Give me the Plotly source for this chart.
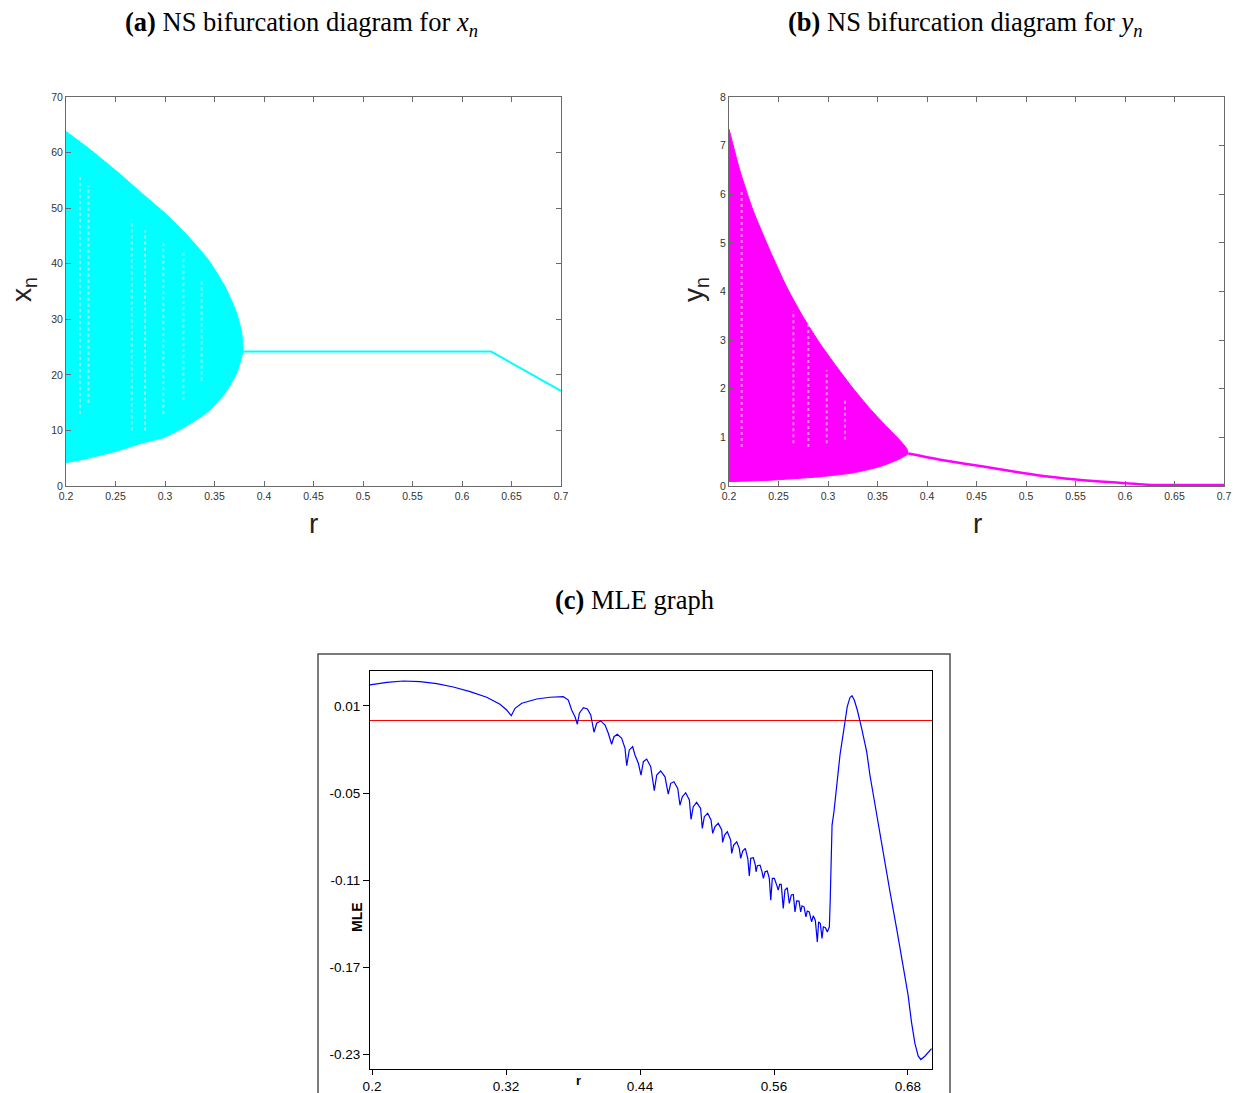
import plotly.graph_objects as go

# ---------------- Data ----------------
# Panel (a): NS bifurcation envelope for x_n
a_upper_r = [0.2, 0.2226, 0.2495, 0.2765, 0.3, 0.3235, 0.3437, 0.3606, 0.3724, 0.3775, 0.3791]
a_upper_x = [63.8, 60.8, 56.9, 52.7, 49.1, 44.9, 40.7, 35.9, 31.1, 27.5, 24.2]
a_lower_r = [0.2, 0.2226, 0.2495, 0.2765, 0.3, 0.3235, 0.3437, 0.3606, 0.3724, 0.3775, 0.3791]
a_lower_x = [4.2, 5.0, 6.2, 7.7, 8.8, 11.0, 13.4, 16.7, 20.3, 23.3, 24.2]
a_line_r = [0.3791, 0.6293, 0.7]
a_line_x = [24.2, 24.2, 17.1]
a_stripe_r = [0.2141, 0.2226, 0.2664, 0.2798, 0.2983, 0.3185, 0.3370]
a_stripe_lo = [13, 15, 10, 10, 13, 15.5, 19]
a_stripe_hi = [56, 54, 48, 46, 44, 42, 37]

# Panel (b): NS bifurcation envelope for y_n
b_upper_r = [0.2, 0.2111, 0.2245, 0.2414, 0.2583, 0.2751, 0.2919, 0.3088, 0.3256, 0.3424, 0.3593, 0.3727, 0.3795, 0.3811]
b_upper_y = [7.34, 6.48, 5.66, 4.84, 4.09, 3.47, 2.93, 2.45, 2.0, 1.59, 1.22, 0.94, 0.77, 0.67]
b_lower_r = [0.2, 0.2414, 0.2919, 0.3256, 0.3525, 0.3694, 0.3795, 0.3811]
b_lower_y = [0.09, 0.12, 0.19, 0.27, 0.40, 0.53, 0.64, 0.67]
b_line_r = [0.3811, 0.4165, 0.4569, 0.4906, 0.5242, 0.5579, 0.5916, 0.6286, 0.65, 0.7]
b_line_y = [0.67, 0.53, 0.40, 0.29, 0.19, 0.12, 0.07, 0.02, 0.02, 0.02]
b_stripe_r = [0.2128, 0.265, 0.2801, 0.2987, 0.3172]
b_stripe_lo = [0.8, 0.88, 0.8, 0.88, 0.95]
b_stripe_hi = [6.07, 3.6, 3.4, 2.38, 1.8]

# Panel (c): MLE graph
r_mle = [0.1982, 0.2132, 0.228, 0.243, 0.2579, 0.2728, 0.2878, 0.3027, 0.3146, 0.3206, 0.3247,
         0.3281, 0.3341, 0.3475, 0.3594, 0.3713, 0.3758, 0.3788, 0.3818, 0.3839,
         0.3857, 0.3893, 0.3929, 0.3959, 0.3988, 0.4012, 0.4048, 0.4087, 0.4116, 0.4146,
         0.4167, 0.4197, 0.4236, 0.4266, 0.4281, 0.4304, 0.4334, 0.4355, 0.4385, 0.4409,
         0.443, 0.446, 0.4496, 0.4528, 0.455, 0.4585, 0.4624, 0.4653, 0.4675, 0.4704,
         0.4738, 0.4758, 0.4779, 0.4809, 0.4842, 0.4857, 0.4877, 0.4907, 0.4943, 0.4958,
         0.4976, 0.5006, 0.5036, 0.5051, 0.5072, 0.5101, 0.5132, 0.514, 0.5158, 0.5182,
         0.5212, 0.5221, 0.5239, 0.5266, 0.5289, 0.5302, 0.532, 0.5343, 0.5365, 0.5379,
         0.5392, 0.5415, 0.5433, 0.5439, 0.5451, 0.5475, 0.5493, 0.5505, 0.552, 0.554,
         0.5558, 0.5571, 0.5585, 0.5603, 0.5624, 0.5638, 0.5651, 0.5665, 0.5683, 0.5698,
         0.5719, 0.5737, 0.5755, 0.5773, 0.5788, 0.5803, 0.5824, 0.5839, 0.5851, 0.5869,
         0.5886, 0.5898, 0.5916, 0.5937, 0.5952, 0.597, 0.5988, 0.6, 0.6015, 0.603,
         0.6042, 0.606, 0.6078, 0.6096, 0.6104, 0.6111, 0.612, 0.6137, 0.6161, 0.6191,
         0.6227, 0.6256, 0.628, 0.6298, 0.6319, 0.6346, 0.6385, 0.643, 0.6459, 0.6519,
         0.6579, 0.6639, 0.6698, 0.6758, 0.6801, 0.6831, 0.6862, 0.6891, 0.6915, 0.6951,
         0.699, 0.7011]
mle_vals = [0.0245, 0.0263, 0.0272, 0.0268, 0.0254, 0.0231, 0.0199, 0.016, 0.0112, 0.0072, 0.0033,
            0.0084, 0.0119, 0.0148, 0.016, 0.0164, 0.0141, 0.0072, 0.0026, -0.0026,
            0.005, 0.0088, 0.0079, 0.0038, -0.0081, -0.0019, -0.0003, -0.0031, -0.0088, -0.0164,
            -0.0112, -0.0095, -0.0123, -0.0192, -0.0312, -0.0203, -0.0181, -0.0238, -0.0295, -0.0376,
            -0.0284, -0.0266, -0.0319, -0.0484, -0.0376, -0.0348, -0.0388, -0.0507, -0.0433, -0.0422,
            -0.0468, -0.0583, -0.0526, -0.0498, -0.0548, -0.0681, -0.0594, -0.0564, -0.0606, -0.0744,
            -0.0663, -0.064, -0.0686, -0.0778, -0.0732, -0.0709, -0.0755, -0.084, -0.079, -0.0767,
            -0.0824, -0.0916, -0.0859, -0.0836, -0.0881, -0.095, -0.09, -0.0881, -0.095, -0.1072,
            -0.095, -0.0946, -0.0997, -0.1043, -0.1001, -0.0997, -0.1043, -0.1088, -0.1043, -0.1038,
            -0.1088, -0.1238, -0.1088, -0.1088, -0.1134, -0.1169, -0.113, -0.113, -0.1295, -0.1169,
            -0.1153, -0.1261, -0.1203, -0.1199, -0.1319, -0.1243, -0.1245, -0.1319, -0.1277, -0.1284,
            -0.1353, -0.1314, -0.1319, -0.1388, -0.1346, -0.1376, -0.1526, -0.1388, -0.1399, -0.1502,
            -0.1422, -0.1429, -0.1457, -0.1422, -0.1226, -0.0859, -0.0721, -0.0629, -0.0445, -0.0238,
            -0.0054, 0.0095, 0.0157, 0.0171, 0.0141, 0.0072, -0.0054, -0.0215, -0.0376, -0.0652,
            -0.0905, -0.1181, -0.1433, -0.1686, -0.1893, -0.2077, -0.2226, -0.2312, -0.2337, -0.2314,
            -0.2284, -0.2261]
mle_ref_level = 0.0

ab_xticks = [0.2, 0.25, 0.3, 0.35, 0.4, 0.45, 0.5, 0.55, 0.6, 0.65, 0.7]
ab_xticktext = ["0.2", "0.25", "0.3", "0.35", "0.4", "0.45", "0.5", "0.55", "0.6", "0.65", "0.7"]
a_yticks = [0, 10, 20, 30, 40, 50, 60, 70]
b_yticks = [0, 1, 2, 3, 4, 5, 6, 7, 8]
c_xticks = [0.2, 0.32, 0.44, 0.56, 0.68]
c_xticktext = ["0.2", "0.32", "0.44", "0.56", "0.68"]
c_yticks = [0.01, -0.05, -0.11, -0.17, -0.23]
c_yticktext = ["0.01", "-0.05", "-0.11", "-0.17", "-0.23"]

# ---------------- Figure ----------------
W, H = 1235, 1093


def px(xp):
    return xp / W


def py(yp):
    return 1 - yp / H


CYAN = "#00ffff"
MAGENTA = "#ff00ff"
SANS = "Liberation Sans, Arial, sans-serif"
SERIF = "Liberation Serif, Times New Roman, serif"

fig = go.Figure()


def stripes(rs, lo, hi):
    xs, ys = [], []
    for r, a, b in zip(rs, lo, hi):
        xs += [r, r, None]
        ys += [a, b, None]
    return xs, ys


STRIPE = dict(color="rgba(255,255,255,0.55)", width=2, dash="dot")

# Panel (a)
fig.add_trace(go.Scatter(x=a_upper_r + a_lower_r[::-1], y=a_upper_x + a_lower_x[::-1],
                         fill="toself", fillcolor=CYAN, mode="lines",
                         line=dict(color=CYAN, width=1, shape="spline", smoothing=0.6),
                         xaxis="x", yaxis="y", showlegend=False, hoverinfo="skip"))
sx, sy = stripes(a_stripe_r, a_stripe_lo, a_stripe_hi)
fig.add_trace(go.Scatter(x=sx, y=sy, mode="lines", line=STRIPE,
                         xaxis="x", yaxis="y", showlegend=False, hoverinfo="skip"))
fig.add_trace(go.Scatter(x=a_line_r, y=a_line_x, mode="lines",
                         line=dict(color=CYAN, width=2), xaxis="x", yaxis="y",
                         showlegend=False))

# Panel (b)
fig.add_trace(go.Scatter(x=b_upper_r + b_lower_r[::-1], y=b_upper_y + b_lower_y[::-1],
                         fill="toself", fillcolor=MAGENTA, mode="lines",
                         line=dict(color=MAGENTA, width=1, shape="spline", smoothing=0.6),
                         xaxis="x2", yaxis="y2", showlegend=False, hoverinfo="skip"))
sx, sy = stripes(b_stripe_r, b_stripe_lo, b_stripe_hi)
fig.add_trace(go.Scatter(x=sx, y=sy, mode="lines", line=STRIPE,
                         xaxis="x2", yaxis="y2", showlegend=False, hoverinfo="skip"))
fig.add_trace(go.Scatter(x=b_line_r, y=b_line_y, mode="lines",
                         line=dict(color=MAGENTA, width=2.5, shape="spline", smoothing=0.5),
                         xaxis="x2", yaxis="y2", showlegend=False))

# Panel (c)
fig.add_trace(go.Scatter(x=[0.1982, 0.7015], y=[mle_ref_level, mle_ref_level], mode="lines",
                         line=dict(color="#ff0000", width=1.2), xaxis="x3", yaxis="y3",
                         showlegend=False))
fig.add_trace(go.Scatter(x=r_mle, y=mle_vals, mode="lines",
                         line=dict(color="#0000ff", width=1.2), xaxis="x3", yaxis="y3",
                         showlegend=False))

ab_axis_common = dict(showline=True, linecolor="#6a6a6a", linewidth=1, mirror="ticks",
                      ticks="inside", ticklen=5, tickcolor="#6a6a6a", tickwidth=1,
                      showgrid=False, zeroline=False, automargin=False,
                      tickfont=dict(family=SANS, size=10.5, color="#333333"))

y_bot = py(486)
y_top = py(97)

fig.update_layout(
    width=W, height=H, margin=dict(l=0, r=0, t=0, b=0, autoexpand=False),
    paper_bgcolor="white", plot_bgcolor="white",
    xaxis=dict(domain=[px(66), px(561)], range=[0.2, 0.7], tickvals=ab_xticks,
               ticktext=ab_xticktext, anchor="y", **ab_axis_common),
    yaxis=dict(domain=[y_bot, y_top], range=[0, 70], tickvals=a_yticks, anchor="x",
               **ab_axis_common),
    xaxis2=dict(domain=[px(729), px(1224)], range=[0.2, 0.7], tickvals=ab_xticks,
                ticktext=ab_xticktext, anchor="y2", **ab_axis_common),
    yaxis2=dict(domain=[y_bot, y_top], range=[0, 8], tickvals=b_yticks, anchor="x2",
                **ab_axis_common),
    xaxis3=dict(domain=[px(370), px(932)], range=[0.1982, 0.7015], tickvals=c_xticks,
                ticktext=c_xticktext, anchor="y3", showline=True, linecolor="black",
                linewidth=1, mirror=True, ticks="outside", ticklen=5, tickcolor="black",
                showgrid=False, zeroline=False, automargin=False,
                tickfont=dict(family=SANS, size=13.5, color="black")),
    yaxis3=dict(domain=[py(1069), py(671)], range=[-0.2402, 0.0341],
                tickvals=c_yticks, ticktext=c_yticktext, anchor="x3", showline=True,
                linecolor="black", linewidth=1, mirror=True, ticks="outside", ticklen=6,
                tickcolor="black", showgrid=False, zeroline=False, automargin=False,
                tickfont=dict(family=SANS, size=13.5, color="black")),
)

# Outer frame around panel (c)
fig.add_shape(type="rect", xref="paper", yref="paper",
              x0=px(318), x1=px(950), y0=py(1100), y1=py(654),
              line=dict(color="#505050", width=1.5), fillcolor="rgba(0,0,0,0)")

ann = []
# Titles
ann.append(dict(text="<b>(a)</b> NS bifurcation diagram for <i>x</i><sub><i>n</i></sub>",
                x=px(301), y=py(24), font=dict(family=SERIF, size=26.5, color="black")))
ann.append(dict(text="<b>(b)</b> NS bifurcation diagram for <i>y</i><sub><i>n</i></sub>",
                x=px(965), y=py(24), font=dict(family=SERIF, size=26.5, color="black")))
ann.append(dict(text="<b>(c)</b> MLE graph",
                x=px(634), y=py(600), font=dict(family=SERIF, size=26.5, color="black")))
# Axis titles (a), (b)
ann.append(dict(text="r", x=px(313), y=py(523), font=dict(family=SANS, size=28, color="#222")))
ann.append(dict(text="r", x=px(977), y=py(523), font=dict(family=SANS, size=28, color="#222")))
ann.append(dict(text="x<sub>n</sub>", x=px(24), y=py(290), textangle=-90,
                font=dict(family=SANS, size=28, color="#222")))
ann.append(dict(text="y<sub>n</sub>", x=px(696), y=py(290), textangle=-90,
                font=dict(family=SANS, size=28, color="#222")))
# Axis titles (c)
ann.append(dict(text="<b>r</b>", x=px(578), y=py(1080),
                font=dict(family=SANS, size=13, color="black")))
ann.append(dict(text="<b>MLE</b>", x=px(357), y=py(917), textangle=-90,
                font=dict(family=SANS, size=14, color="black")))

for a in ann:
    a.update(xref="paper", yref="paper", showarrow=False, xanchor="center", yanchor="middle")
    fig.add_annotation(**a)

fig.write_html("out.html")
